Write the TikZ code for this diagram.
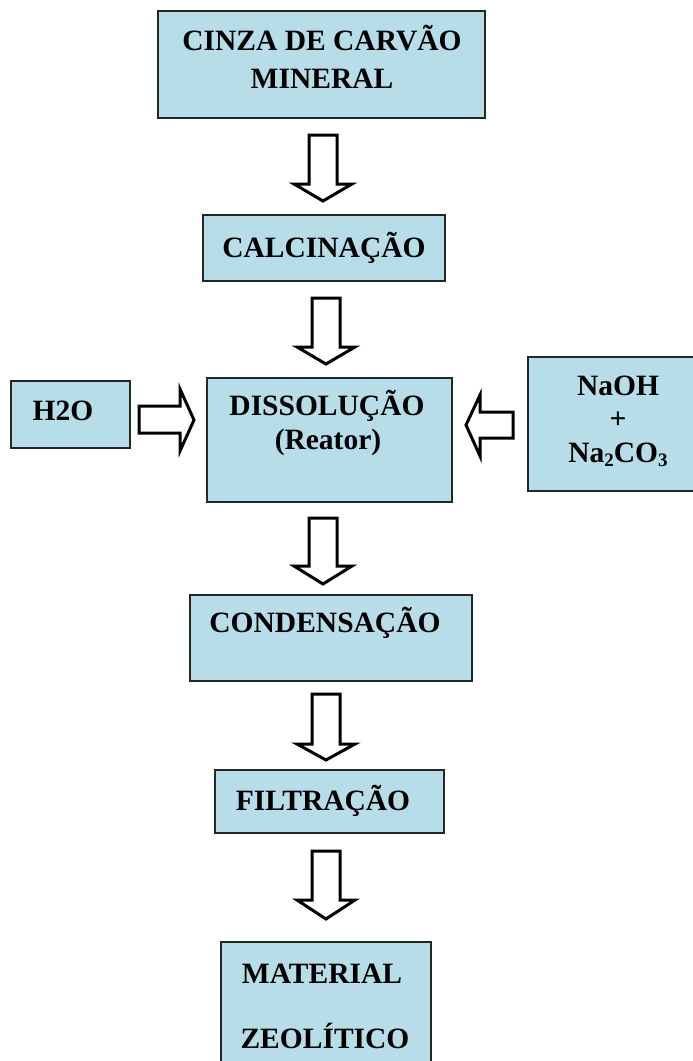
\documentclass[tikz,border=0pt]{standalone}
\usepackage{fontspec}
\setmainfont{Liberation Serif}
\definecolor{boxblue}{RGB}{183,221,232}
\begin{document}
\begin{tikzpicture}[x=1pt,y=-1pt,
  box/.style={draw=black!85,line width=1.8pt,fill=boxblue},
  lbl/.style={anchor=base,inner sep=0pt,font=\fontsize{29.5}{35}\selectfont\bfseries},
  blk/.style={draw=black,line width=3pt,fill=white,line join=miter}]
\clip (0,0) rectangle (693,1061);
\useasboundingbox (0,0) rectangle (693,1061);
% boxes
\draw[box] (158,11) rectangle (485,118) coordinate (cinza);
\draw[box] (203,215) rectangle (445,281) coordinate (calc);
\draw[box] (11,381) rectangle (130,448) coordinate (h2o);
\draw[box] (207,378) rectangle (452,502) coordinate (diss);
\draw[box] (528,357) rectangle (700,491) coordinate (naoh);
\draw[box] (190,595) rectangle (472,681) coordinate (cond);
\draw[box] (215,770) rectangle (444,833) coordinate (filt);
\draw[box] (221,942) rectangle (431,1075) coordinate (mat);
% labels
\node[lbl] (t1) at (322,50) {CINZA DE CARVÃO};
\node[lbl] (t1b) at (322,88) {MINERAL};
\node[lbl] (t2) at (324,257) {CALCINAÇÃO};
\node[lbl] (t3) at (63,420) {H2O};
\node[lbl] (t4) at (327,415) {DISSOLUÇÃO};
\node[lbl] (t4b) at (328,449) {(Reator)};
\node[lbl] (t5) at (618,395) {NaOH};
\node[lbl] (t5b) at (618,428) {+};
\node[lbl] (t5c) at (618,462) {Na\raisebox{-0.3ex}{\fontsize{19}{20}\selectfont 2}CO\raisebox{-0.3ex}{\fontsize{19}{20}\selectfont 3}};
\node[lbl] (t6) at (325,632) {CONDENSAÇÃO};
\node[lbl] (t7) at (323,810) {FILTRAÇÃO};
\node[lbl] (t8) at (322,983) {MATERIAL};
\node[lbl] (t8b) at (325,1048) {ZEOLÍTICO};
% down block arrows: #1 centre x, #2 top, #3 head start, #4 tip
\newcommand{\dnblk}[4]{\draw[blk] (#1-14,#2) -- (#1+14,#2) -- (#1+14,#3) -- (#1+29,#3) -- (#1,#4) -- (#1-29,#3) -- (#1-14,#3) -- cycle;}
\dnblk{323}{135}{184}{201}
\dnblk{326}{298}{347}{364}
\dnblk{323}{518}{566}{584}
\dnblk{326}{694}{744}{760}
\dnblk{326}{851}{900}{919}
% right arrow from H2O
\draw[blk] (139,406) -- (180,406) -- (180,389) -- (194,420) -- (180,451) -- (180,433) -- (139,433) -- cycle;
% left arrow into dissolucao
\draw[blk] (513,412) -- (480,412) -- (480,395) -- (466,425) -- (480,456) -- (480,438) -- (513,438) -- cycle;
\end{tikzpicture}
\end{document}
